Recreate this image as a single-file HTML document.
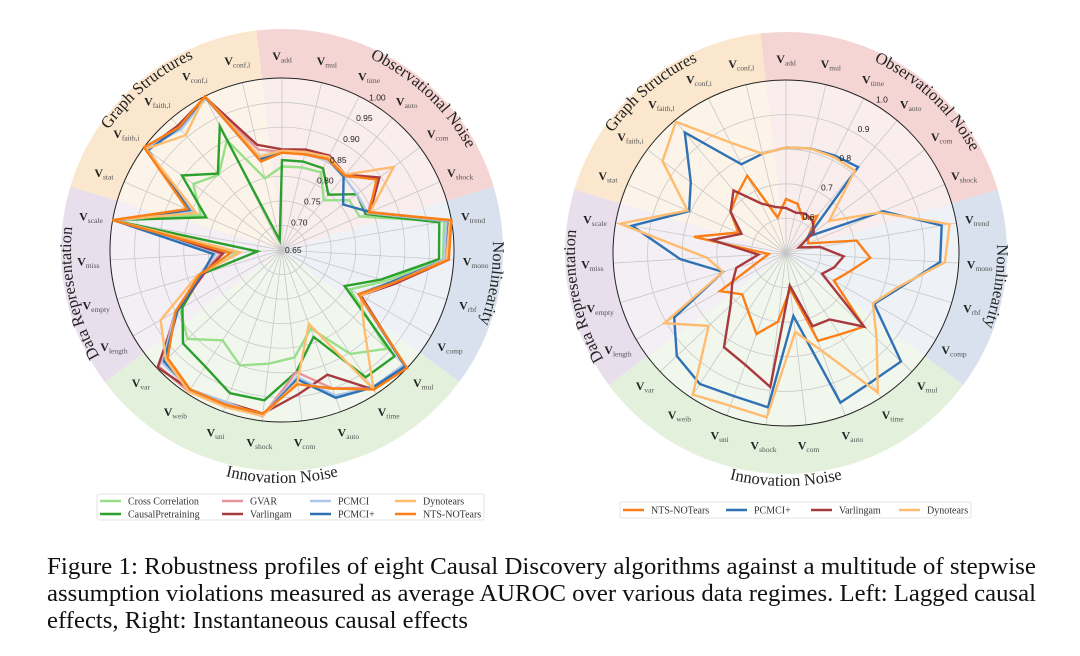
<!DOCTYPE html>
<html><head><meta charset="utf-8"><style>
html,body{margin:0;padding:0;background:#fff;}
svg{display:block;}
</style></head><body>
<svg id="fig" width="1080" height="656" viewBox="0 0 1080 656" xmlns="http://www.w3.org/2000/svg">
<g id="left-chart"></g>
<g id="right-chart"></g>
<g id="left-legend"></g>
<g id="right-legend"></g>
<g font-family="'Liberation Serif', serif" font-size="24" fill="#111">
<text x="47" y="574" textLength="989" lengthAdjust="spacingAndGlyphs">Figure 1: Robustness profiles of eight Causal Discovery algorithms against a multitude of stepwise</text>
<text x="47" y="601" textLength="989" lengthAdjust="spacingAndGlyphs">assumption violations measured as average AUROC over various data regimes. Left: Lagged causal</text>
<text x="47" y="628" textLength="421" lengthAdjust="spacingAndGlyphs">effects, Right: Instantaneous causal effects</text>
</g>
</svg>
<script>
const axisKeys = ['add','mul','time','auto','com','shock','trend','mono','rbf','comp','mul','time','auto','com','shock','uni','weib','var','length','empty','miss','scale','stat','faith,i','faith,l','conf,i','conf,l'];
const leftTicks = [0.70,0.75,0.80,0.85,0.90,0.95,1.00];
const leftTickLabels = ['0.70','0.75','0.80','0.85','0.90','0.95','1.00'];
const rightTicks = [0.6,0.7,0.8,0.9,1.0];
const rightTickLabels = ['0.6','0.7','0.8','0.9','1.0'];

const leftCrossCorrelation = [0.82,0.823,0.827,0.782,0.82,0.822,0.985,0.978,0.87,0.81,0.943,0.903,0.82,0.87,0.883,0.9,0.87,0.914,0.89,0.83,0.74,0.99,0.83,0.875,0.85,0.9,0.8];
const leftCausalPretraining = [0.833,0.835,0.836,0.797,0.84,0.835,0.975,0.97,0.86,0.797,0.965,0.96,0.838,0.9,0.958,0.96,0.934,0.927,0.884,0.82,0.70,1.0,0.818,0.904,0.853,0.932,0.67];
const leftGVAR = [0.85,0.855,0.86,0.845,0.895,0.84,0.99,0.985,0.885,0.835,0.995,0.985,0.95,0.9,0.99,0.985,0.995,0.995,0.9,0.82,0.775,0.995,0.845,0.995,0.975,0.995,0.86];
const leftVarlingam = [0.855,0.86,0.865,0.85,0.897,0.845,0.995,0.99,0.89,0.835,0.995,0.99,0.92,0.945,0.985,0.98,0.99,0.998,0.895,0.815,0.77,0.998,0.85,0.995,0.98,0.998,0.87];
const leftPCMCI = [0.85,0.85,0.855,0.845,0.84,0.84,0.99,0.98,0.88,0.83,0.99,0.985,0.965,0.91,0.99,0.98,0.99,0.985,0.9,0.825,0.785,0.99,0.85,0.995,0.97,0.995,0.835];
const leftPCMCIplus = [0.848,0.852,0.858,0.845,0.805,0.845,0.995,0.985,0.88,0.83,0.995,0.985,0.97,0.915,0.99,0.985,0.99,0.98,0.895,0.82,0.79,0.995,0.855,0.99,0.975,0.998,0.84];
const leftDynotears = [0.852,0.855,0.862,0.85,0.933,0.845,0.997,0.985,0.885,0.835,0.88,0.989,0.81,0.92,0.99,0.99,0.995,0.975,0.935,0.83,0.735,1.0,0.84,0.995,0.955,1.0,0.845];
const leftNTSNOTears = [0.848,0.85,0.857,0.848,0.89,0.843,1.0,0.99,0.885,0.83,1.0,0.99,0.95,0.925,0.985,0.985,0.99,0.97,0.9,0.825,0.755,1.0,0.86,1.0,0.976,1.0,0.835];

const rightNTSNOTears = [0.656,0.646,0.61,0.64,0.58,0.57,0.707,0.744,0.69,0.66,0.81,0.782,0.77,0.605,0.70,0.749,0.70,0.674,0.72,0.58,0.55,0.77,0.65,0.70,0.72,0.75,0.605];
const rightPCMCIplus = [0.805,0.81,0.815,0.824,0.58,0.805,0.957,0.946,0.846,0.794,0.957,0.947,0.96,0.683,0.949,0.94,0.953,0.934,0.873,0.69,0.806,0.952,0.805,0.843,0.955,0.787,0.795];
const rightVarlingam = [0.63,0.62,0.627,0.62,0.60,0.54,0.60,0.667,0.645,0.62,0.81,0.73,0.725,0.595,0.89,0.844,0.826,0.72,0.68,0.65,0.58,0.718,0.64,0.70,0.736,0.66,0.637];
const rightDynotears = [0.805,0.81,0.81,0.81,0.655,0.795,0.98,0.96,0.84,0.79,0.86,0.983,0.80,0.73,0.978,0.97,0.99,0.807,0.906,0.69,0.73,0.987,0.81,0.945,0.995,0.857,0.795];

const groupNames = ['Observational Noise','Nonlinearity','Innovation Noise','Data Representation','Graph Structures'];
const groupFrom = [0,6,10,18,22];
const groupTo = [5,9,17,21,26];
const groupStrong = ['#f5d5d3','#d8e1ed','#e3f0db','#e8deec','#fbe7cd'];
const groupLight = ['#f9eded','#eef2f7','#f2f7ee','#f3eff5','#fcf4e9'];
const groupTitleAngle = [43,99,180,258,320];
const groupTitleClockwise = [true,true,false,true,true];

const NS = 'http://www.w3.org/2000/svg';
function mk(tag, attrs, parent){ const e=document.createElementNS(NS,tag); for(const k in attrs) e.setAttribute(k,attrs[k]); if(parent) parent.appendChild(e); return e; }
function pt(cx,cy,ang,r){ const a=ang*Math.PI/180; return [cx+r*Math.sin(a), cy-r*Math.cos(a)]; }
function wedge(cx,cy,r,a0,a1){ const p0=pt(cx,cy,a0,r), p1=pt(cx,cy,a1,r); const lg=(a1-a0)>180?1:0; return `M${cx},${cy}L${p0[0]},${p0[1]}A${r},${r} 0 ${lg} 1 ${p1[0]},${p1[1]}Z`; }

function drawChart(g, id, cx, cy, R, vmin, vmax, ticks, tickLabels, centerLabel, seriesList){
  const N = axisKeys.length, step = 360/N, Rout = 221;
  const rad = v => Math.max(0,(v-vmin)/(vmax-vmin))*R;
  for(let k=0;k<groupNames.length;k++){
    const a0=(groupFrom[k]-0.5)*step, a1=(groupTo[k]+0.5)*step;
    const s=mk('path',{d:wedge(cx,cy,Rout,a0,a1),fill:groupStrong[k]},g);
    
    
  }
  for(let k=0;k<groupNames.length;k++){
    const a0=(groupFrom[k]-0.5)*step, a1=(groupTo[k]+0.5)*step;
    const s=mk('path',{d:wedge(cx,cy,R,a0,a1),fill:groupLight[k]},g);
    
    
  }
  for(let i=0;i<ticks.length-1;i++){
    const c=mk('circle',{cx:cx,cy:cy,r:rad(ticks[i]),fill:'none',stroke:'#c8c8c8','stroke-width':0.8},g);
    
    
  }
  for(let i=0;i<N;i++){
    const p=pt(cx,cy,i*step,R);
    const l=mk('line',{x1:cx,y1:cy,x2:p[0],y2:p[1],stroke:'#c8c8c8','stroke-width':0.8},g);
    
    
  }
  const oc=mk('circle',{cx:cx,cy:cy,r:R,fill:'none',stroke:'#222','stroke-width':1},g);
  
  
  for(const s of seriesList){
    const pts=s.values.map((v,i)=>pt(cx,cy,i*step,rad(v)).map(n=>n.toFixed(1)).join(',')).join(' ');
    const pl=mk('polygon',{points:pts,fill:'none',stroke:s.color,'stroke-width':2.4,'stroke-linejoin':'miter'},g);
    
    
  }
  if(centerLabel){
    const tl=mk('text',{x:cx+3,y:cy+3,'font-family':"'Liberation Sans',sans-serif",'font-size':8.5,fill:'#222'},g);
    tl.textContent=centerLabel;
    
    
  }
  for(let i=0;i<ticks.length;i++){
    const p=pt(cx,cy,32,rad(ticks[i])+8);
    const t=mk('text',{x:p[0],y:p[1]+3,'text-anchor':'middle','font-family':"'Liberation Sans',sans-serif",'font-size':8.5,fill:'#222'},g);
    t.textContent=tickLabels[i];
    
    
  }
  for(let i=0;i<N;i++){
    const p=pt(cx,cy,i*step,194);
    const t=mk('text',{x:p[0],y:p[1]+4,'text-anchor':'middle','font-family':"'Liberation Serif',serif",'font-size':12,fill:'#222','font-weight':'bold'},g);
    const v=mk('tspan',{},t); v.textContent='V';
    const sb=mk('tspan',{'font-size':7.5,'font-weight':'normal',dy:2.5,fill:'#555'},t); sb.textContent=axisKeys[i];
    
    
  }
  for(let k=0;k<groupNames.length;k++){
    const a=groupTitleAngle[k], span=40;
    let d;
    if(groupTitleClockwise[k]){
      const r=211, p0=pt(cx,cy,a-span,r), p1=pt(cx,cy,a+span,r);
      d=`M${p0[0]},${p0[1]}A${r},${r} 0 0 1 ${p1[0]},${p1[1]}`;
    } else {
      const r=233, p0=pt(cx,cy,a+span,r), p1=pt(cx,cy,a-span,r);
      d=`M${p0[0]},${p0[1]}A${r},${r} 0 0 0 ${p1[0]},${p1[1]}`;
    }
    const pid=id+'-title-path-'+k;
    mk('path',{id:pid,d:d,fill:'none',stroke:'none'},g);
    const t=mk('text',{'font-family':"'Liberation Serif',serif",'font-size':16.5,fill:'#222'},g);
    const tp=mk('textPath',{href:'#'+pid,startOffset:'50%','text-anchor':'middle'},t);
    tp.textContent=groupNames[k];
    
    
  }
}

const C = {cc:'#98df8a',cp:'#2ca02c',gvar:'#e5959b',varl:'#a83a3e',pcmci:'#aec7e8',pcmcip:'#2f72b4',dyno:'#ffbb6e',nts:'#fb7f16'};

drawChart(document.getElementById('left-chart'),'left',282,250,172,0.65,1.0,leftTicks,leftTickLabels,'0.65',[
  {key:'cross-correlation',color:C.cc,values:leftCrossCorrelation},
  {key:'causal-pretraining',color:C.cp,values:leftCausalPretraining},
  {key:'gvar',color:C.gvar,values:leftGVAR},
  {key:'varlingam',color:C.varl,values:leftVarlingam},
  {key:'pcmci',color:C.pcmci,values:leftPCMCI},
  {key:'pcmci-plus',color:C.pcmcip,values:leftPCMCIplus},
  {key:'dynotears',color:C.dyno,values:leftDynotears},
  {key:'nts-notears',color:C.nts,values:leftNTSNOTears}
]);
drawChart(document.getElementById('right-chart'),'right',786,253,173,0.5,1.0,rightTicks,rightTickLabels,'',[
  {key:'nts-notears',color:C.nts,values:rightNTSNOTears},
  {key:'pcmci-plus',color:C.pcmcip,values:rightPCMCIplus},
  {key:'varlingam',color:C.varl,values:rightVarlingam},
  {key:'dynotears',color:C.dyno,values:rightDynotears}
]);

function legend(g, x, y, w, h, items){
  const b=mk('rect',{x:x,y:y,width:w,height:h,rx:2,fill:'#fff',stroke:'#ddd','stroke-width':0.8},g);
  
  
  for(const it of items){
    const e=mk('g',{},g);
    
    
    mk('line',{x1:it.x,y1:it.y,x2:it.x+21,y2:it.y,stroke:it.color,'stroke-width':2.4},e);
    const t=mk('text',{x:it.x+28,y:it.y+3.5,'font-family':"'Liberation Serif',serif",'font-size':10,fill:'#333'},e);
    t.textContent=it.label;
  }
}
legend(document.getElementById('left-legend'),97,494,387,26,[
  {key:'cross-correlation',label:'Cross Correlation',color:C.cc,x:100,y:501},
  {key:'causal-pretraining',label:'CausalPretraining',color:C.cp,x:100,y:514},
  {key:'gvar',label:'GVAR',color:C.gvar,x:222,y:501},
  {key:'varlingam',label:'Varlingam',color:C.varl,x:222,y:514},
  {key:'pcmci',label:'PCMCI',color:C.pcmci,x:310,y:501},
  {key:'pcmci-plus',label:'PCMCI+',color:C.pcmcip,x:310,y:514},
  {key:'dynotears',label:'Dynotears',color:C.dyno,x:395,y:501},
  {key:'nts-notears',label:'NTS-NOTears',color:C.nts,x:395,y:514}
]);
legend(document.getElementById('right-legend'),620,502,351,16,[
  {key:'nts-notears',label:'NTS-NOTears',color:C.nts,x:623,y:510},
  {key:'pcmci-plus',label:'PCMCI+',color:C.pcmcip,x:726,y:510},
  {key:'varlingam',label:'Varlingam',color:C.varl,x:811,y:510},
  {key:'dynotears',label:'Dynotears',color:C.dyno,x:899,y:510}
]);
</script>
</body></html>
